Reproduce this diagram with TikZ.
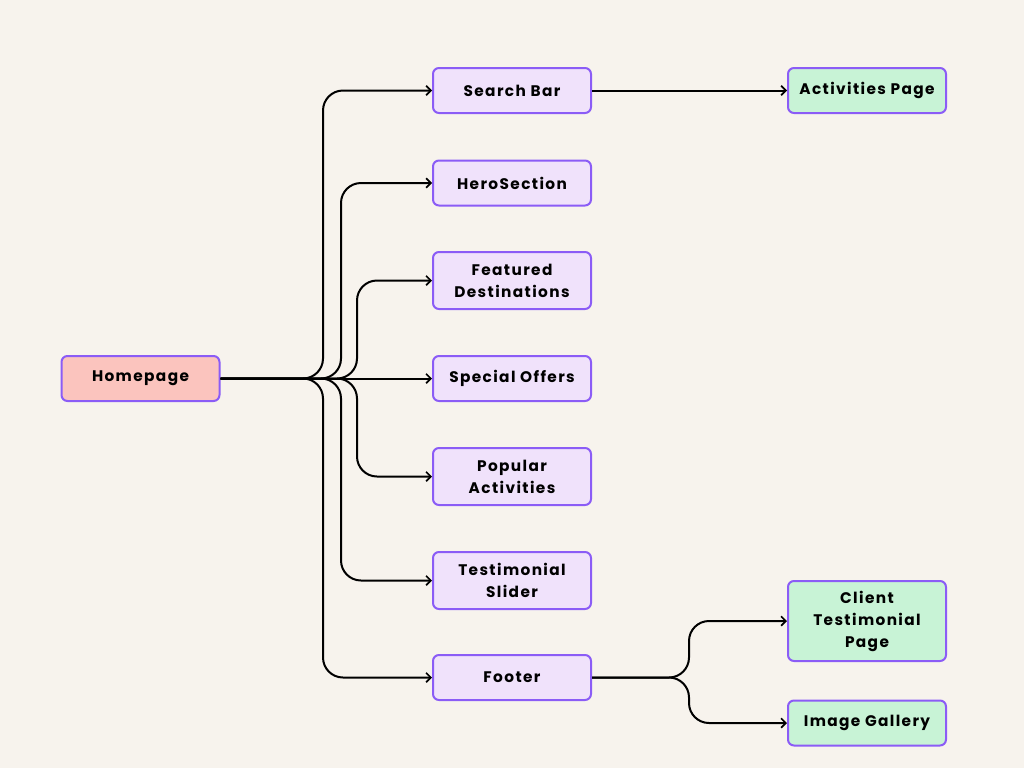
\documentclass[tikz,border=0pt]{standalone}
\usepackage{fontspec}
\setmainfont{Poppins}[LetterSpace=9]
\usetikzlibrary{arrows.meta,calc}
\definecolor{bg}{HTML}{F7F3ED}
\definecolor{edge}{HTML}{8B5CF6}
\definecolor{purp}{HTML}{F0E2FB}
\definecolor{pink}{HTML}{FBC4BE}
\definecolor{mint}{HTML}{C8F3D6}
\tikzset{
  box/.style={draw=edge, line width=1.5pt, rounded corners=4.5pt, fill=purp,
    minimum width=118.5pt, minimum height=33.75pt, align=center,
    font=\bfseries\fontsize{11.5}{16.5}\selectfont, inner sep=0pt},
  home/.style={box, fill=pink},
  leaf/.style={box, fill=mint},
  conn/.style={line width=1.5pt, rounded corners=15pt,
    -{Straight Barb[length=3.5pt,width=7pt,line width=1.3pt]}},
}
\begin{document}
\begin{tikzpicture}[x=0.75pt,y=-0.75pt]
\fill[bg] (0,0) rectangle (1024,768);
\useasboundingbox (0,0) rectangle (1024,768);
\node[home] (hp) at (140.5,378.5) {Homepage};
\node[box] (sb) at (512,90.5) {Search Bar};
\node[box] (hs) at (512,183) {HeroSection};
\node[box, minimum height=42.75pt] (fd) at (512,280.5) {Featured\\Destinations};
\node[box] (so) at (512,378.5) {Special Offers};
\node[box, minimum height=42.75pt] (pa) at (512,476.5) {Popular\\Activities};
\node[box, minimum height=42.75pt] (ts) at (512,580.5) {Testimonial\\Slider};
\node[box] (ft) at (512,677.5) {Footer};
\node[leaf] (ap) at (867,90.5) {Activities Page};
\node[leaf, minimum height=60pt] (ct) at (867,621) {Client\\Testimonial\\Page};
\node[leaf] (ig) at (867,723) {Image Gallery};

\draw[conn] (hp.east) -| ($(sb.west)+(-109,0)$) -- (sb.west);
\draw[conn] (hp.east) -| ($(hs.west)+(-91,0)$) -- (hs.west);
\draw[conn] (hp.east) -| ($(fd.west)+(-75,0)$) -- (fd.west);
\draw[conn] (hp.east) -- (so.west);
\draw[conn] (hp.east) -| ($(pa.west)+(-75,0)$) -- (pa.west);
\draw[conn] (hp.east) -| ($(ts.west)+(-91,0)$) -- (ts.west);
\draw[conn] (hp.east) -| ($(ft.west)+(-109,0)$) -- (ft.west);
\draw[conn] (sb.east) -- (ap.west);
\draw[conn] (ft.east) -| ($(ct.west)+(-98,0)$) -- (ct.west);
\draw[conn] (ft.east) -| ($(ig.west)+(-98,0)$) -- (ig.west);
\end{tikzpicture}
\end{document}
